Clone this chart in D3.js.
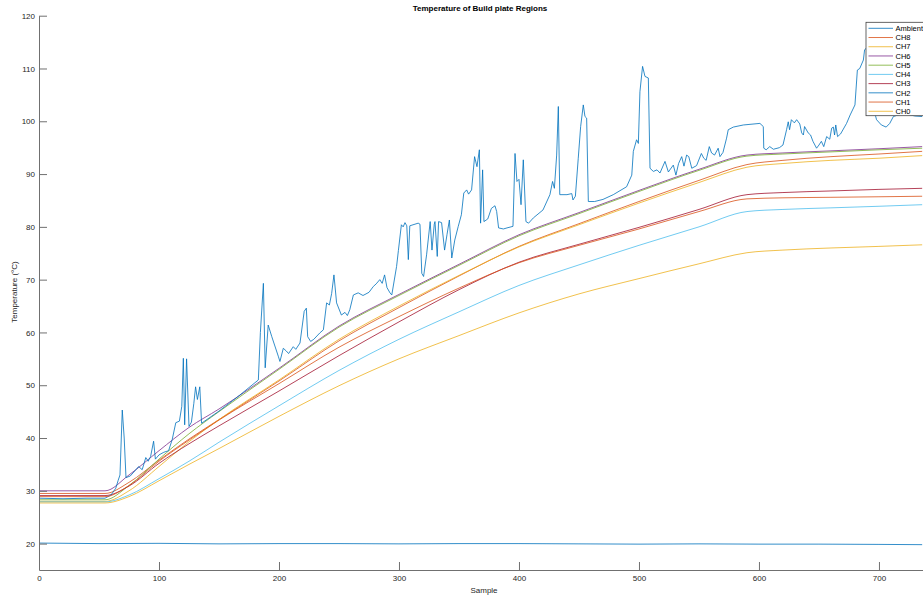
<!DOCTYPE html>
<html lang="en">
<head>
    <meta charset="UTF-8">
    <title>Temperature of Build plate Regions</title>
    <script src="https://d3js.org/d3.v7.min.js"></script>
</head>
<style>
    body { margin: 0; background: #fff; }
    svg { display: block; font-family: "Liberation Sans", Arial, sans-serif; }
</style>
<body>
<script>
const knots = [0, 55, 75, 100, 125, 150, 200, 250, 300, 350, 400, 450, 500, 550, 590, 620, 660, 700, 736];

const ch8 = [29.5, 29.5, 31.6, 35.8, 39.8, 43.5, 50.8, 58.4, 64.7, 70.7, 76.3, 80.6, 84.8, 88.8, 91.8, 92.6, 93.3, 93.8, 94.3];
const ch7 = [28.0, 28.0, 30.0, 34.6, 39.3, 43.5, 51.0, 58.7, 65.0, 70.8, 76.2, 80.4, 84.5, 88.4, 91.3, 92.0, 92.6, 93.0, 93.5];
const ch6 = [30.0, 30.0, 33.0, 37.6, 42.0, 45.5, 53.2, 61.2, 67.2, 72.9, 78.5, 82.7, 86.9, 90.9, 93.6, 94.0, 94.4, 94.8, 95.2];
const ch5 = [28.3, 28.3, 31.0, 36.0, 40.8, 45.0, 53.0, 61.0, 67.0, 72.7, 78.3, 82.5, 86.7, 90.7, 93.4, 93.8, 94.2, 94.6, 94.9];
const ch4 = [27.9, 27.9, 29.2, 32.3, 35.6, 39.2, 46.1, 52.8, 58.7, 63.9, 68.9, 72.8, 76.5, 80.0, 82.9, 83.3, 83.6, 83.9, 84.2];
const ch3 = [29.1, 29.1, 30.9, 35.2, 38.9, 42.3, 48.9, 55.6, 62.0, 68.1, 73.3, 76.7, 79.9, 83.3, 86.1, 86.5, 86.8, 87.1, 87.3];
const ch1 = [28.9, 28.9, 31.0, 35.6, 39.6, 43.4, 50.3, 57.2, 63.0, 68.4, 73.2, 76.5, 79.6, 82.9, 85.3, 85.5, 85.6, 85.7, 85.8];
const ch0 = [27.7, 27.7, 28.9, 31.9, 35.0, 38.0, 44.1, 49.9, 55.0, 59.4, 63.7, 67.3, 70.2, 73.0, 75.1, 75.6, 76.0, 76.3, 76.6];

// ambient sensor, nearly flat
const ambientSamples = [0, 50, 100, 150, 200, 250, 300, 350, 400, 450, 500, 550, 600, 650, 700, 736];
const ambientValues = [20.1, 20.0, 20.05, 19.95, 20.0, 20.0, 19.95, 20.0, 20.0, 19.95, 19.9, 19.95, 19.9, 19.9, 19.85, 19.8];

// CH2, the spiky trace
const ch2Samples = [0, 20, 40, 55, 60, 64, 66, 67.5, 69.4, 71, 72.5, 76, 80, 83, 86, 89, 91, 93, 95.5, 97, 100, 104, 108, 111, 114, 117, 119,
    120.3, 121.4, 123, 125, 127, 129, 130.5, 132, 134, 135.5, 150, 165, 182.8, 184.5, 187, 188.5, 191, 194, 199.4, 200.8, 203.6, 206, 208,
    211.9, 214, 217.5, 221, 222.8, 223.9, 226.4, 229, 234, 237, 239.7, 242, 243.9, 245.8, 248, 252, 255, 257, 259, 262, 266, 270, 275,
    278.6, 281, 284, 286, 288, 290, 292.5, 294, 298, 299.5, 302, 303.5, 305, 306.5, 307.8, 309, 316, 317.5, 319, 320.5, 323, 326, 327.5,
    329.4, 330, 331.9, 333, 335.5, 338, 340, 342, 344, 346.5, 349.4, 352, 354, 356.4, 358, 360.5, 363, 365, 367, 368, 369.7, 370.8, 374,
    377, 380, 381.4, 383, 387, 390, 395, 396.7, 398.3, 400, 401.7, 403.6, 405.8, 408, 412, 420, 425.8, 428, 429.5, 431.4, 432.8, 434, 440,
    444, 445, 447, 449.4, 451.4, 453.6, 455, 456.4, 457.8, 463, 470, 478.6, 489.7, 494, 495.3, 498, 499.5, 500.8, 503, 505, 507.8, 509.2,
    512, 515, 517.5, 521.7, 524.5, 528.6, 530.8, 533, 535.6, 537.5, 539.7, 541.5, 544, 548, 552, 554, 556, 558.6, 560.5, 563, 566, 567.5,
    570, 573, 574.4, 578.6, 587, 600.8, 603.6, 604, 606, 609, 612, 617, 620, 623, 624.4, 625.5, 627, 629.5, 631.4, 634, 635.6, 637, 638,
    641, 643, 645, 648, 650, 652, 654, 656.4, 659, 660.6, 662, 663, 664, 665.5, 668, 673, 676, 680, 682, 684, 687, 688, 690, 693, 696,
    698, 702, 706, 709, 712, 720, 730, 736];
const ch2Values = [28.6, 28.5, 28.6, 28.6, 29.2, 30.5, 32.0, 33.0, 45.3, 40.0, 32.5, 32.8, 33.8, 34.6, 34.0, 36.3, 35.6, 36.5, 39.4, 36.0, 36.8, 37.3, 37.6, 39.7, 42.9, 43.2, 46.0,
    55.1, 42.5, 55.0, 42.2, 43.0, 46.5, 49.7, 47.3, 49.7, 42.8, 45.1, 47.7, 51.0, 60.0, 69.3, 53.3, 61.4, 59.2, 55.5, 54.5, 57.0, 56.5, 56.0,
    57.3, 56.8, 58.0, 64.0, 64.6, 59.2, 58.3, 58.7, 59.9, 60.5, 65.6, 65.2, 67.4, 70.9, 65.6, 63.3, 63.8, 63.2, 64.3, 67.1, 67.5, 67.0, 67.6,
    68.7, 69.2, 70.0, 69.3, 70.9, 68.5, 67.5, 67.1, 72.5, 75.5, 80.4, 80.0, 80.8, 80.2, 73.8, 80.2, 80.7, 80.5, 71.2, 70.6, 74.7, 81.0, 75.6,
    80.5, 81.0, 74.4, 81.0, 80.8, 75.6, 78.5, 81.3, 74.1, 77.5, 80.1, 82.3, 86.4, 87.0, 86.2, 87.0, 93.3, 91.4, 94.6, 80.7, 90.8, 81.0, 81.5,
    83.5, 84.0, 82.9, 79.8, 79.6, 79.8, 80.1, 93.9, 88.6, 89.0, 84.2, 92.7, 81.0, 80.7, 81.7, 83.2, 86.1, 88.6, 87.3, 93.6, 102.8, 86.1, 86.1,
    86.3, 85.1, 85.8, 93.0, 99.0, 103.1, 100.9, 100.6, 84.8, 84.8, 85.2, 86.1, 87.6, 89.8, 94.3, 96.5, 95.8, 105.6, 110.4, 108.5, 108.2, 91.1,
    90.5, 90.8, 90.2, 92.4, 90.4, 91.7, 89.8, 92.0, 93.3, 91.5, 93.6, 93.3, 91.1, 91.6, 93.9, 93.0, 92.6, 95.2, 94.0, 93.6, 94.9, 93.3,
    94.1, 96.8, 98.4, 98.9, 99.3, 99.6, 99.0, 94.9, 94.6, 95.2, 94.7, 95.0, 95.5, 98.4, 99.9, 98.4, 100.3, 99.7, 100.3, 99.5, 97.8, 97.4, 99.0,
    97.8, 97.4, 96.2, 94.9, 95.5, 96.2, 95.2, 97.1, 96.6, 98.7, 98.9, 97.4, 99.3, 97.1, 97.6, 99.6, 101.2, 103.1, 109.7, 110.0, 111.6, 113.5, 114.0, 108.0, 102.0,
    100.3, 99.3, 98.9, 99.6, 100.9, 101.5, 101.0, 100.9];

const seriesNames = ["Ambient", "CH8", "CH7", "CH6", "CH5", "CH4", "CH3", "CH2", "CH1", "CH0"];
const colors = ["#0072BD", "#D95319", "#EDB120", "#7E2F8E", "#77AC30", "#4DBEEE", "#A2142F"];
const xTicks = [0, 100, 200, 300, 400, 500, 600, 700];
const yTicks = [20, 30, 40, 50, 60, 70, 80, 90, 100, 110, 120];

const zip = (xs, ys) => xs.map((s, i) => ({ s: s, v: ys[i] }));
const series = [
    zip(ambientSamples, ambientValues),
    zip(knots, ch8), zip(knots, ch7), zip(knots, ch6), zip(knots, ch5),
    zip(knots, ch4), zip(knots, ch3), zip(ch2Samples, ch2Values),
    zip(knots, ch1), zip(knots, ch0)
];

const width = 923, height = 598;
const svg = d3.select('body').append('svg')
    .attr('width', width)
    .attr('height', height);

const x = d3.scaleLinear().domain([0, 736.7]).range([39, 923]);
const y = d3.scaleLinear().domain([15, 120]).range([570, 15.7]);

// lines
const smooth = d3.line().x(d => x(d.s)).y(d => y(d.v)).curve(d3.curveMonotoneX);
const straight = d3.line().x(d => x(d.s)).y(d => y(d.v));

svg.append('g').selectAll('path')
    .data(series)
    .enter()
    .append('path')
    .attr('fill', 'none')
    .attr('stroke', (d, i) => colors[i % colors.length])
    .attr('stroke-width', 1)
    .attr('stroke-opacity', 0.8)
    .attr('d', (d, i) => (i === 7 || i === 0) ? straight(d) : smooth(d));

// axes, ticks pointing inward like matlab
const axisColor = '#707070';
const xAxis = svg.append('g')
    .attr('transform', `translate(0, ${y(15)})`)
    .call(d3.axisBottom(x).tickValues(xTicks).tickSizeInner(-8).tickSizeOuter(0).tickPadding(5));
const yAxis = svg.append('g')
    .attr('transform', `translate(${x(0)}, 0)`)
    .call(d3.axisLeft(y).tickValues(yTicks).tickSizeInner(-8).tickSizeOuter(0).tickPadding(4));

[xAxis, yAxis].forEach(a => {
    a.select('.domain').attr('stroke', axisColor);
    a.selectAll('.tick line').attr('stroke', axisColor);
    a.selectAll('.tick text')
        .attr('fill', '#262626')
        .style('font-size', '8px')
        .style('font-family', '"Liberation Sans", Arial, sans-serif');
});
yAxis.selectAll('.tick text').attr('x', -4);

// title and labels
svg.append('text')
    .attr('x', 480)
    .attr('y', 11)
    .attr('text-anchor', 'middle')
    .style('font-size', '8px')
    .style('font-weight', 'bold')
    .attr('fill', '#000')
    .text('Temperature of Build plate Regions');

svg.append('text')
    .attr('x', 484)
    .attr('y', 593)
    .attr('text-anchor', 'middle')
    .style('font-size', '8px')
    .attr('fill', '#262626')
    .text('Sample');

svg.append('text')
    .attr('transform', `translate(17, 292) rotate(-90)`)
    .attr('text-anchor', 'middle')
    .style('font-size', '8px')
    .attr('fill', '#262626')
    .text('Temperature (°C)');

// legend
const legend = svg.append('g');
legend.append('rect')
    .attr('x', 866)
    .attr('y', 22.3)
    .attr('width', 80)
    .attr('height', 93.4)
    .attr('fill', '#fff')
    .attr('stroke', '#404040')
    .attr('stroke-width', 0.8);

const rows = legend.selectAll('.row')
    .data(seriesNames)
    .enter()
    .append('g')
    .attr('class', 'row')
    .attr('transform', (d, i) => `translate(0, ${28.3 + i * 9.22})`);
rows.append('line')
    .attr('x1', 868.5).attr('x2', 893)
    .attr('stroke', (d, i) => colors[i % colors.length])
    .attr('stroke-opacity', 0.8)
    .attr('stroke-width', 1);
rows.append('text')
    .attr('x', 895.5)
    .attr('y', 2.7)
    .style('font-size', '7.5px')
    .attr('fill', '#000')
    .text(d => d);
</script>
</body>
</html>
